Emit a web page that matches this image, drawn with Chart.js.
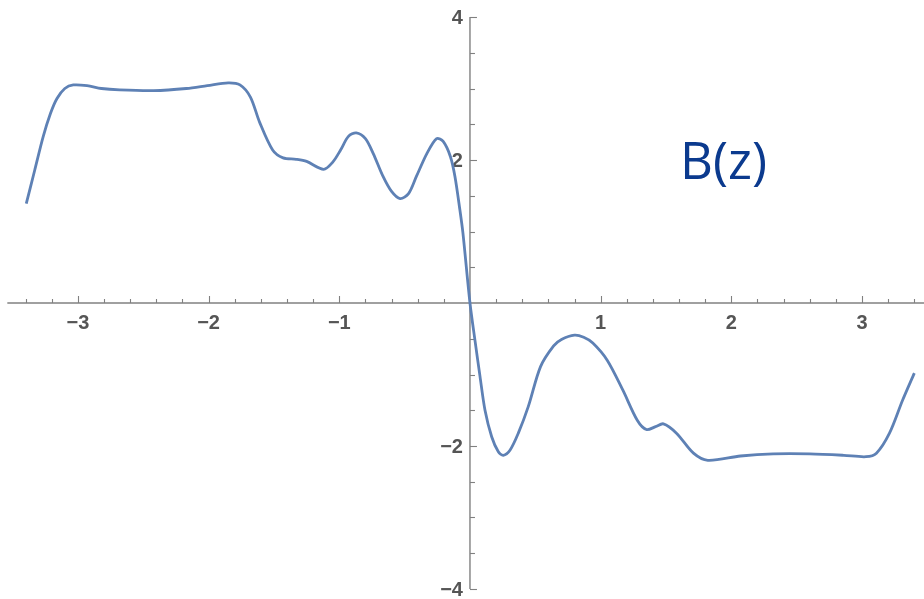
<!DOCTYPE html>
<html>
<head>
<meta charset="utf-8">
<script src="https://cdn.jsdelivr.net/npm/chart.js@4/dist/chart.umd.min.js"></script>
<style>
  html, body { margin: 0; padding: 0; background: #fff; }
  #plot { display: block; }
</style>
</head>
<body>
<canvas id="plot" width="924" height="599"></canvas>
<script>
// B(z) curve
const zValues = [
  -3.395, -3.33, -3.265, -3.21, -3.16, -3.10, -3.035, -2.93, -2.82, -2.68,
  -2.42, -2.17, -2.01, -1.85, -1.76, -1.68, -1.61, -1.51, -1.43, -1.33,
  -1.25, -1.12, -1.05, -0.99, -0.93, -0.87, -0.80, -0.74, -0.665, -0.60,
  -0.535, -0.47, -0.41, -0.33, -0.255, -0.205, -0.15, -0.115, -0.077, -0.054,
  0.00, 0.038, 0.077, 0.115, 0.166, 0.217, 0.255, 0.306, 0.37, 0.446,
  0.54, 0.64, 0.70, 0.80, 0.87, 0.94, 1.05, 1.17, 1.28,
  1.35, 1.42, 1.48, 1.58, 1.71, 1.82, 2.07, 2.32, 2.60, 2.86,
  3.03, 3.11, 3.21, 3.31, 3.40
];
const bValues = [
  1.39, 1.86, 2.33, 2.65, 2.86, 3.00, 3.05, 3.04, 3.00, 2.98,
  2.97, 3.00, 3.04, 3.08, 3.05, 2.88, 2.53, 2.14, 2.03, 2.01,
  1.98, 1.87, 1.97, 2.14, 2.33, 2.38, 2.30, 2.09, 1.77, 1.56,
  1.46, 1.53, 1.77, 2.09, 2.30, 2.26, 2.05, 1.77, 1.30, 0.98,
  0.00, -0.52, -1.03, -1.50, -1.87, -2.08, -2.13, -2.06, -1.82, -1.45,
  -0.89, -0.60, -0.51, -0.45, -0.48, -0.56, -0.80, -1.22, -1.64,
  -1.77, -1.73, -1.69, -1.82, -2.10, -2.20, -2.14, -2.11, -2.11, -2.13,
  -2.15, -2.10, -1.82, -1.36, -0.98
];

const xTickLabels = [-3, -2, -1, 1, 2, 3];
const yTickLabels = [-4, -2, 2, 4];
const titleText = 'B(z)';

const axisColor = '#808080';
const labelColor = '#555555';

function fmt(v) {
  return v < 0 ? '\u2212' + Math.abs(v) : String(v);
}

// draws Mathematica-style axes crossing at the origin
const axesPlugin = {
  id: 'originAxes',
  beforeDatasetsDraw(chart) {
    const ctx = chart.ctx;
    const xs = chart.scales.x;
    const ys = chart.scales.y;
    const x0 = xs.getPixelForValue(0);
    const y0 = ys.getPixelForValue(0);

    ctx.save();
    ctx.strokeStyle = axisColor;
    ctx.lineWidth = 1.4;

    // x axis
    ctx.beginPath();
    ctx.moveTo(xs.getPixelForValue(-3.54), y0);
    ctx.lineTo(chart.width, y0);
    ctx.stroke();
    // y axis
    ctx.beginPath();
    ctx.moveTo(x0, ys.getPixelForValue(4));
    ctx.lineTo(x0, ys.getPixelForValue(-4));
    ctx.stroke();

    ctx.lineWidth = 1.1;
    for (let i = -17; i <= 17; i += 1) {
      const v = i * 0.2;
      if (i === 0) continue;
      const px = Math.round(xs.getPixelForValue(v)) + 0.5;
      const len = i % 5 === 0 ? 7 : 4;
      ctx.beginPath();
      ctx.moveTo(px, y0);
      ctx.lineTo(px, y0 - len);
      ctx.stroke();
    }
    for (let i = -8; i <= 8; i += 1) {
      const v = i * 0.5;
      if (i === 0) continue;
      const py = Math.round(ys.getPixelForValue(v)) + 0.5;
      const len = i % 4 === 0 ? 7 : 5;
      ctx.beginPath();
      ctx.moveTo(x0, py);
      ctx.lineTo(x0 + len, py);
      ctx.stroke();
    }

    ctx.fillStyle = labelColor;
    ctx.font = 'bold 20px "Liberation Sans", Arial, sans-serif';
    ctx.textAlign = 'center';
    ctx.textBaseline = 'middle';
    xTickLabels.forEach((v) => {
      ctx.fillText(fmt(v), xs.getPixelForValue(v), y0 + 20);
    });
    ctx.textAlign = 'right';
    yTickLabels.forEach((v) => {
      ctx.fillText(fmt(v), x0 - 7, ys.getPixelForValue(v) + 1);
    });
    ctx.restore();
  },
  afterDraw(chart) {
    const ctx = chart.ctx;
    ctx.save();
    ctx.fillStyle = '#0b3a8e';
    ctx.font = '51px "Open Sans", Lato, sans-serif';
    ctx.textAlign = 'left';
    ctx.textBaseline = 'alphabetic';
    ctx.fillText(titleText, 680, 179);
    ctx.restore();
  },
};

const points = zValues.map((z, i) => ({ x: z, y: bValues[i] }));

new Chart(document.getElementById('plot'), {
  type: 'line',
  data: {
    datasets: [
      {
        label: titleText,
        data: points,
        borderColor: '#5e81b5',
        borderWidth: 2.8,
        pointRadius: 0,
        fill: false,
        tension: 0.3,
      },
    ],
  },
  options: {
    responsive: false,
    animation: false,
    devicePixelRatio: 1,
    layout: { padding: 0 },
    plugins: {
      legend: { display: false },
      tooltip: { enabled: false },
    },
    scales: {
      x: { type: 'linear', min: -3.596, max: 3.474, display: false },
      y: { type: 'linear', min: -4.14, max: 4.238, display: false },
    },
  },
  plugins: [axesPlugin],
});
</script>
</body>
</html>
